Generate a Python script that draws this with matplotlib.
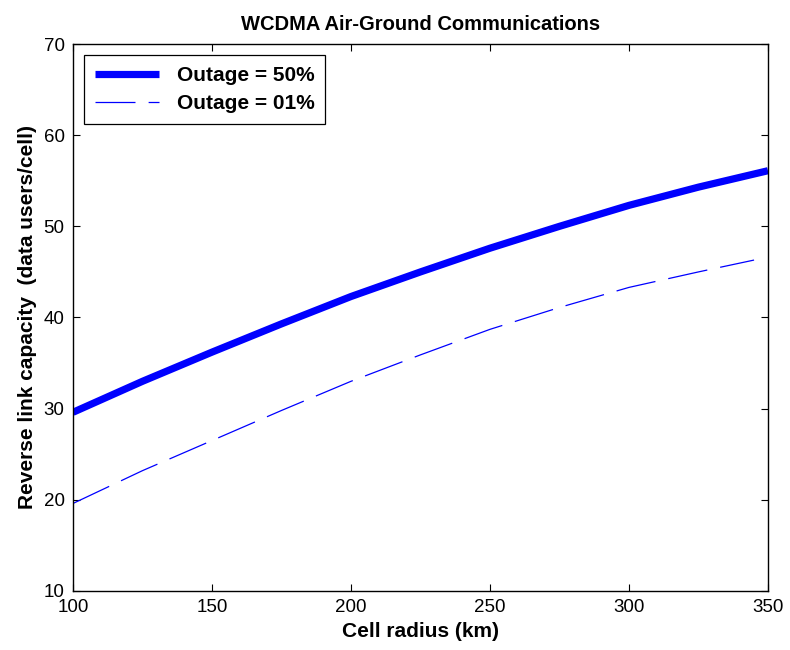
import matplotlib
matplotlib.use("Agg")
import matplotlib.pyplot as plt

plt.rcParams['font.family'] = ['Liberation Sans', 'DejaVu Sans']

# cell radius (km)
radius_50 = [100, 125, 150, 175, 200, 225, 250, 275, 300, 325, 350]
radius_01 = [100, 125, 150, 175, 200, 225, 250, 275, 300, 325, 345]

# reverse link capacity (data users/cell)
cap_50 = [29.6, 33.0, 36.2, 39.3, 42.3, 45.0, 47.6, 50.0, 52.3, 54.3, 56.1]
cap_01 = [19.6, 23.2, 26.5, 29.8, 33.0, 35.9, 38.7, 41.1, 43.3, 45.0, 46.3]

labels = ['Outage = 50%', 'Outage = 01%']

fig = plt.figure(figsize=(7.9, 6.5), dpi=100, facecolor='white')
ax = fig.add_axes([0.0924, 0.0908, 0.8797, 0.8415])

ax.plot(radius_50, cap_50, color='#0000ff', lw=5.2, solid_capstyle='butt', label=labels[0])
ax.plot(radius_01, cap_01, color='#0000ff', lw=0.9, dashes=(32, 10.5), label=labels[1])

ax.set_xlim(100, 350)
ax.set_ylim(10, 70)
ax.set_xticks([100, 150, 200, 250, 300, 350])
ax.set_yticks([10, 20, 30, 40, 50, 60, 70])
ax.tick_params(direction='in', length=5, width=0.8, top=True, right=True,
               labelsize=13.5, pad=6)
for s in ax.spines.values():
    s.set_linewidth(1.0)

ax.set_title('WCDMA Air-Ground Communications', fontsize=14.5, fontweight='bold', pad=10)
ax.set_xlabel('Cell radius (km)', fontsize=15, fontweight='bold', labelpad=4)
ax.set_ylabel('Reverse link capacity  (data users/cell)', fontsize=15, fontweight='bold', labelpad=5)

leg = ax.legend(loc='upper left', prop={'size': 15, 'weight': 'bold'}, fancybox=False,
                edgecolor='black', framealpha=1, handlelength=3.1, borderaxespad=0.55,
                borderpad=0.5, labelspacing=0.45, handletextpad=0.85)
leg.get_frame().set_linewidth(0.9)

fig.savefig('out.png', dpi=100)
